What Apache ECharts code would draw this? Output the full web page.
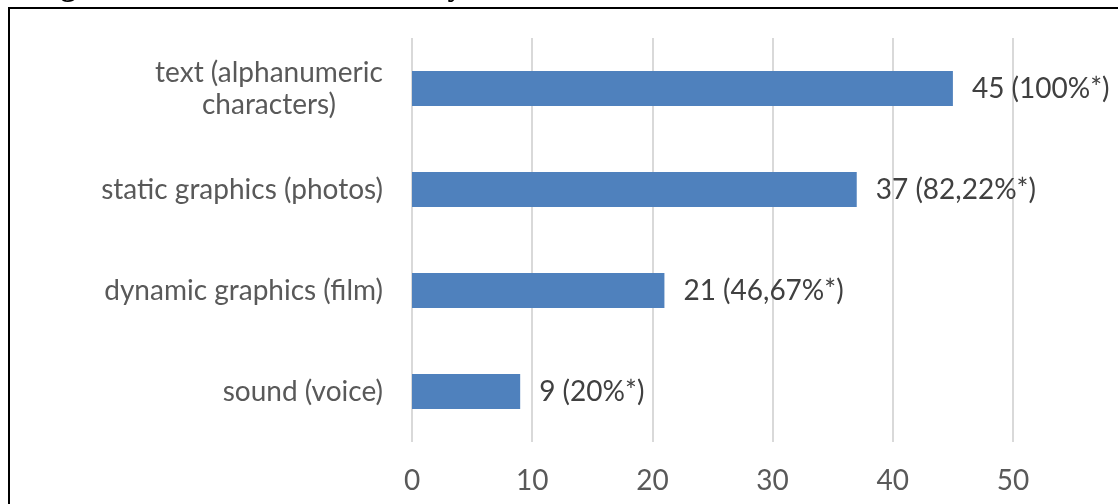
<!DOCTYPE html>
<html>
<head>
<meta charset="utf-8">
<style>
  html, body { margin: 0; padding: 0; background: #fff; }
  #chart { width: 1118px; height: 504px; }
</style>
<script src="https://cdn.jsdelivr.net/npm/echarts@6/dist/echarts.min.js"></script>
</head>
<body>
<div id="chart"></div>
<script>
// Form of data held in GIS systems (number of systems, share of 45)
const categories = ['text (alphanumeric characters)', 'static graphics (photos)', 'dynamic graphics (film)', 'sound (voice)'];
const counts = [45, 37, 21, 9];
const shares = ['100%', '82,22%', '46,67%', '20%'];
const xTicks = [0, 10, 20, 30, 40, 50];

const FONT = 'Lato, "Open Sans", sans-serif';
const FS = 28;
const chart = echarts.init(document.getElementById('chart'));

chart.setOption({
  animation: false,
  backgroundColor: '#ffffff',
  graphic: [
    {
      type: 'rect',
      shape: { x: 9, y: 8, width: 1200, height: 600 },
      style: { fill: 'none', stroke: '#000', lineWidth: 2 },
      silent: true
    },
    {
      type: 'text',
      left: 33,
      top: -29,
      style: {
        text: 'Figure 3. Form of data in GIS systems',
        font: 'bold 31px "Liberation Serif", serif',
        fill: '#000'
      },
      silent: true
    }
  ],
  grid: { left: 412, right: 105, top: 38, bottom: 62, containLabel: false },
  xAxis: {
    type: 'value',
    min: xTicks[0],
    max: xTicks[xTicks.length - 1],
    interval: 10,
    axisLine: { show: false },
    axisTick: { show: false },
    splitLine: { lineStyle: { color: '#d9d9d9', width: 2 } },
    axisLabel: { color: '#595959', fontFamily: FONT, fontSize: FS, margin: 25 }
  },
  yAxis: {
    type: 'category',
    inverse: true,
    data: categories,
    axisLine: { show: false },
    axisTick: { show: false },
    axisLabel: {
      color: '#595959',
      fontFamily: FONT,
      fontSize: FS,
      margin: 29,
      lineHeight: 32,
      formatter: function (v) {
        if (v === categories[0]) {
          return '{c|text (alphanumeric}\n{c|characters)}';
        }
        return v;
      },
      rich: {
        c: { width: 228, align: 'center', color: '#595959', fontFamily: FONT, fontSize: FS, lineHeight: 32 }
      }
    }
  },
  series: [{
    type: 'bar',
    data: counts,
    barWidth: '34.5%',
    itemStyle: { color: '#4f81bd' },
    label: {
      show: true,
      position: 'right',
      distance: 19,
      color: '#404040',
      fontFamily: FONT,
      fontSize: FS,
      formatter: function (p) { return p.value + ' (' + shares[p.dataIndex] + '*)'; }
    }
  }]
});
</script>
</body>
</html>
